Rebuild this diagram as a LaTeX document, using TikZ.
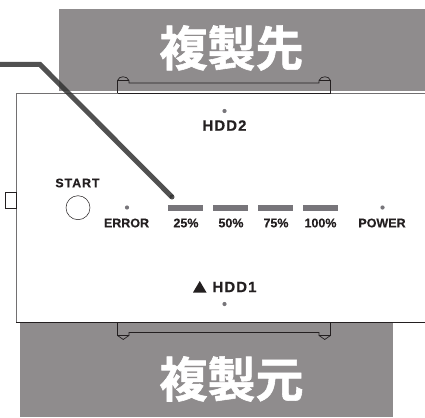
\documentclass[tikz,border=0pt]{standalone}
\usepackage{fontspec}
\setmainfont{Liberation Sans}
\newfontfamily\lblfont{Liberation Sans Bold}[FakeBold=0.3]
\newfontfamily\lblwide{Liberation Sans Bold}[FakeBold=0.3,LetterSpace=7]
\newfontfamily\cjk{Noto Sans CJK JP Bold}[FakeBold=1.2]
\definecolor{band}{HTML}{8F8C8D}
\definecolor{ink}{HTML}{231F20}
\definecolor{led}{HTML}{77757A}
\tikzset{
  titletext/.style={text=white,font=\cjk\fontsize{48}{48}\selectfont,inner sep=0pt,anchor=center},
  lbl/.style={text=ink,font=\lblfont\fontsize{12.5}{12.5}\selectfont,inner sep=0pt,anchor=center},
  lblw/.style={text=ink,font=\lblwide\fontsize{12.5}{12.5}\selectfont,inner sep=0pt,anchor=center},
  lblh/.style={text=ink,font=\lblwide\fontsize{15}{15}\selectfont,inner sep=0pt,anchor=center},
  bar/.style={fill=led,draw=none,minimum width=35pt,minimum height=5.5pt,inner sep=0pt},
  dot/.style={circle,fill=led,draw=none,minimum size=4.2pt,inner sep=0pt},
  outline/.style={draw=ink,line width=.7pt},
}
\begin{document}
\begin{tikzpicture}[x=1pt,y=-1pt]
\useasboundingbox (0,0) rectangle (425,417);
% bands
\fill[band] (59,9) rectangle (425,91);
\fill[band] (20,322) rectangle (393,417);
\node[titletext] (dst) at (231.5,48) {複製先};
\node[titletext] (src) at (231.5,379) {複製元};
% body
\fill[white] (16,91) rectangle (425,322);
\draw[draw=band!80!black,line width=.9pt] (425,93) -- (16,93) -- (16,322);
\draw[outline] (16,322.5) -- (425,322.5);
\draw[outline,line width=.6pt,fill=white] (5,192) rectangle (16,208);
% connectors
\draw[outline] (117.5,93) -- (330.5,93);
\draw[outline] (117.5,93) -- (117.5,80.5) .. controls (119,75.5) and (127,75.5) .. (129,80.5) -- (129,83) -- (319,83) -- (319,80.5) .. controls (321,75.5) and (329,75.5) .. (330.5,80.5) -- (330.5,93);
\draw[outline,line width=.5pt] (117.5,80.5) -- (129,80.5);
\draw[outline,line width=.5pt] (319,80.5) -- (330.5,80.5);
\draw[outline] (117.5,322) -- (117.5,335.5) -- (123.25,339.5) -- (129,335.5) -- (129,332.5) -- (319,332.5) -- (319,335.5) -- (324.75,339.5) -- (330.5,335.5) -- (330.5,322);
\draw[outline,line width=.5pt] (117.5,335.5) -- (129,335.5);
\draw[outline,line width=.5pt] (319,335.5) -- (330.5,335.5);
% controls
\node[circle,draw=ink,line width=.5pt,minimum size=24pt,inner sep=0pt] (startbtn) at (78,207.7) {};
\node[lblw] (start) at (77.5,183) {START};
\node[dot] (d1) at (127,207.5) {};
\node[dot] (d2) at (224.5,111) {};
\node[dot] (d3) at (382.5,207.5) {};
\node[dot] (d4) at (224.5,304) {};
\node[bar] (b25) at (185.5,208) {};
\node[bar] (b50) at (230.5,208) {};
\node[bar] (b75) at (275.5,208) {};
\node[bar] (b100) at (320.5,208) {};
\node[lbl] (error) at (126.5,223) {ERROR};
\node[lbl] (p25) at (186,223) {25\%};
\node[lbl] (p50) at (231,223) {50\%};
\node[lbl] (p75) at (276,223) {75\%};
\node[lbl] (p100) at (320.5,223) {100\%};
\node[lbl] (power) at (382,223) {POWER};
\node[lblh] (hdd2) at (224.5,125.5) {HDD2};
\node[lblh] (hdd1) at (234.5,287) {HDD1};
\fill[ink] (193,292.5) -- (206.5,292.5) -- (199.75,281) -- cycle;
% leader
\coordinate (ls) at (0,64.5);
\coordinate (lb) at (40,64.5);
\coordinate (le) at (172,197);
\draw[draw=black!80,opacity=.85,line width=5pt,line join=miter] (ls) -- (lb) -- (le);
\fill[black!80,opacity=.85] (le) circle (2.5pt);
\end{tikzpicture}
\end{document}
